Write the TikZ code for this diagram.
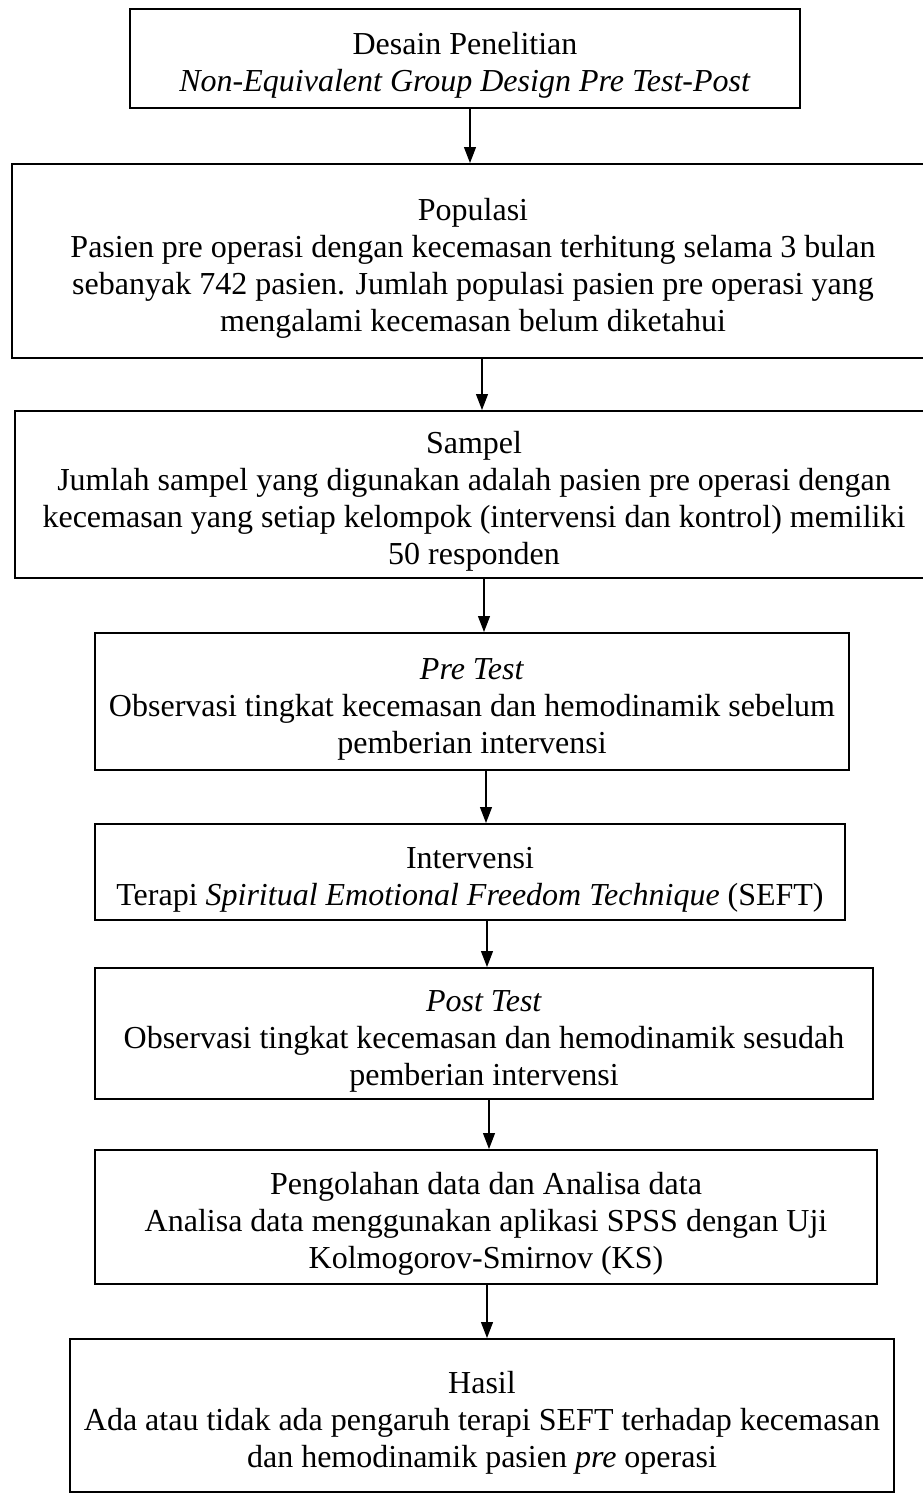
\documentclass[tikz,border=0pt]{standalone}
\usepackage{fontspec}
\setmainfont{Liberation Serif}
\usetikzlibrary{arrows.meta,positioning}
\newcommand{\headstrut}{\rule{0pt}{36pt}}

\begin{document}
\begin{tikzpicture}[
    x=1pt, y=1pt,
    node distance=52pt,
    flowbox/.style={draw, line width=2pt, align=center, inner sep=4pt, font=\fontsize{32}{37}\selectfont},
    arrow/.style={-{Triangle[length=16pt,width=12pt]}, line width=1.2pt}
]
    \useasboundingbox (0,0) rectangle (923,-1493);
    \node[flowbox, minimum width=670pt, minimum height=99pt, anchor=north] (desain) at (465,-8) {\headstrut Desain Penelitian\\\textit{Non-Equivalent Group Design Pre Test-Post}};
    \node[flowbox, minimum width=922pt, minimum height=194pt, below=54pt of desain, xshift=8pt] (populasi) {\headstrut Populasi\\Pasien pre operasi dengan kecemasan terhitung selama 3 bulan\\sebanyak 742 pasien. Jumlah populasi pasien pre operasi yang\\mengalami kecemasan belum diketahui};
    \node[flowbox, minimum width=918pt, minimum height=167pt, below=51pt of populasi, xshift=1pt] (sampel) {\headstrut Sampel\\Jumlah sampel yang digunakan adalah pasien pre operasi dengan\\kecemasan yang setiap kelompok (intervensi dan kontrol) memiliki\\50 responden};
    \node[flowbox, minimum width=754pt, minimum height=137pt, below=53pt of sampel, xshift=-2pt] (pretest) {\headstrut\textit{Pre Test}\\Observasi tingkat kecemasan dan hemodinamik sebelum\\pemberian intervensi};
    \node[flowbox, minimum width=750pt, minimum height=96pt, below=52pt of pretest, xshift=-2pt] (intervensi) {\headstrut Intervensi\\Terapi \textit{Spiritual Emotional Freedom Technique} (SEFT)};
    \node[flowbox, minimum width=778pt, minimum height=131pt, below=46pt of intervensi, xshift=14pt] (posttest) {\headstrut\textit{Post Test}\\Observasi tingkat kecemasan dan hemodinamik sesudah\\pemberian intervensi};
    \node[flowbox, minimum width=782pt, minimum height=134pt, below=49pt of posttest, xshift=2pt] (olah) {\headstrut Pengolahan data dan Analisa data\\Analisa data menggunakan aplikasi SPSS dengan Uji\\Kolmogorov-Smirnov (KS)};
    \node[flowbox, minimum width=824pt, minimum height=153pt, below=53pt of olah, xshift=-4pt] (hasil) {\headstrut Hasil\\Ada atau tidak ada pengaruh terapi SEFT terhadap kecemasan\\dan hemodinamik pasien \textit{pre} operasi};

    \draw[arrow] ([xshift=5pt]desain.south) -- ([xshift=-3pt]populasi.north);
    \draw[arrow] ([xshift=9pt]populasi.south) -- ([xshift=8pt]sampel.north);
    \draw[arrow] ([xshift=10pt]sampel.south) -- ([xshift=12pt]pretest.north);
    \draw[arrow] ([xshift=14pt]pretest.south) -- ([xshift=16pt]intervensi.north);
    \draw[arrow] ([xshift=17pt]intervensi.south) -- ([xshift=3pt]posttest.north);
    \draw[arrow] ([xshift=5pt]posttest.south) -- ([xshift=3pt]olah.north);
    \draw[arrow] ([xshift=1pt]olah.south) -- ([xshift=5pt]hasil.north);
\end{tikzpicture}
\end{document}
